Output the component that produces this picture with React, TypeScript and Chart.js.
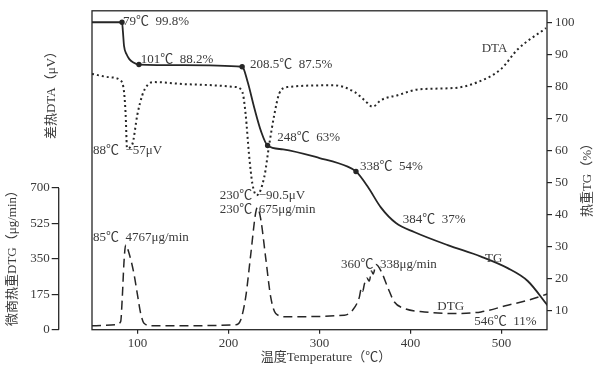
import { useEffect, useRef } from "react";
import { Chart, registerables } from "chart.js";
Chart.register(...registerables);

// TG curve: temperature (°C) and mass (%)
const tgTemp = [50, 83, 84, 85.2, 88, 91, 95, 101.6, 150, 215, 221, 228.3, 235.7, 243, 260, 300, 331, 340.1, 352.9, 367.6, 384, 404, 440.9, 477.5, 506.8, 528.8, 550.8];
const tgValue = [100, 100, 97, 92.6, 90, 88.5, 87.5, 86.8, 86.6, 86.1, 81.4, 73.3, 66, 61.5, 60.3, 57.6, 54.9, 53.4, 48.7, 42.1, 37.3, 34.5, 30.4, 26.8, 23.2, 19.2, 11.5];
const tgMarks = [83, 101.6, 215, 243, 340.1];

// DTA curve: temperature (°C) and signal (μV)
const dtaTemp = [50, 68.7, 81.5, 85.2, 87, 88.5, 94.3, 99.8, 105.3, 110.8, 118.1, 156.6, 207.9, 215.2, 218.9, 222.5, 226.2, 231, 239.3, 244.8, 250.3, 255.8, 265, 316.3, 338.3, 349.3, 358.5, 367.6, 385.9, 409.7, 448.1, 473.8, 499.5, 517.8, 548.9];
const dtaValue = [-4.2, -6.5, -8.9, -17, -33.3, -57, -54.2, -33.3, -19.3, -12.3, -10, -11.6, -13.5, -17, -33.3, -61.2, -82.1, -90.5, -77.5, -54.2, -33.3, -18.1, -13.5, -12.3, -17, -22.8, -27.5, -22.8, -19.3, -15.1, -14.2, -10, -0.7, 13.3, 28.4];

// DTG curve: temperature (°C) and rate (μg/min)
const dtgTemp = [50, 76, 81.5, 83.3, 85.2, 87, 90.7, 96.2, 99.8, 103.5, 107.1, 116.3, 207.9, 213.4, 218.9, 224.4, 229.9, 231.7, 235.4, 240.9, 246.4, 251.9, 262.9, 327.3, 336.5, 343.8, 346, 347.5, 349.3, 352, 354.8, 357, 359, 362.1, 367.6, 375, 382.3, 393.3, 415.3, 448.2, 477.5, 506.8, 528.8, 550.8];
const dtgValue = [19, 24, 40, 161, 338, 419, 378, 274, 177, 80, 32, 19, 24, 48, 161, 370, 579, 603, 547, 354, 161, 80, 64, 72, 97, 161, 205, 190, 225, 255, 240, 290, 275, 322, 290, 209, 137, 105, 88, 80, 88, 121, 145, 177];

const xTicks = [100, 200, 300, 400, 500];
const tgTicks = [10, 20, 30, 40, 50, 60, 70, 80, 90, 100];
const dtgTicks = [0, 175, 350, 525, 700];

// Annotations in data coordinates (x: °C, y: TG %)
const noteText = ["79℃  99.8%", "101℃  88.2%", "208.5℃  87.5%", "88℃  −57μV", "248℃  63%", "338℃  54%", "384℃  37%", "TG", "DTG", "546℃  11%", "360℃  338μg/min", "230℃  −90.5μV", "230℃  675μg/min", "85℃  4767μg/min", "DTA"];
const noteX = [84.1, 103.5, 223.6, 51.1, 253.6, 344.5, 391.4, 481.9, 429.5, 470.1, 323.6, 190.3, 190.3, 51.1, 478.2];
const noteY = [100.2, 88.5, 86.7, 59.9, 64.0, 54.9, 38.4, 26.3, 11.2, 6.6, 24.3, 45.9, 41.4, 32.9, 91.7];

const FAMILY = '"Liberation Serif", "Noto Sans CJK SC", serif';
const TEXT = "#3a3a3a";
const LINE = "#262626";

const drawPlugin = {
  id: "decor",
  afterDraw(chart: any) {
    const { ctx, chartArea, scales } = chart;
    ctx.save();
    // frame
    ctx.strokeStyle = LINE;
    ctx.lineWidth = 1.3;
    ctx.strokeRect(chartArea.left, chartArea.top, chartArea.right - chartArea.left, chartArea.bottom - chartArea.top);
    // DTG axis line
    const d = scales.dtg;
    ctx.beginPath();
    ctx.moveTo(d.right, d.getPixelForValue(dtgTicks[0]));
    ctx.lineTo(d.right, d.getPixelForValue(dtgTicks[dtgTicks.length - 1]));
    ctx.stroke();
    // annotations
    ctx.fillStyle = TEXT;
    ctx.font = `13px ${FAMILY}`;
    ctx.textBaseline = "middle";
    ctx.textAlign = "left";
    noteText.forEach((t, i) => {
      ctx.fillText(t, scales.x.getPixelForValue(noteX[i]), scales.tg.getPixelForValue(noteY[i]));
    });
    // titles
    const rot = (text: string, x: number, y: number) => {
      ctx.save();
      ctx.translate(x, y);
      ctx.rotate(-Math.PI / 2);
      ctx.textAlign = "center";
      ctx.fillText(text, 0, 0);
      ctx.restore();
    };
    rot("差热DTA（μV）", 52, 92);
    rot("微商热重DTG（μg/min）", 13, 255);
    rot("热重TG（%）", 588, 177);
    ctx.textAlign = "center";
    ctx.fillText("温度Temperature（℃）", 326, 358);
    ctx.restore();
  },
};

export default function App() {
  const ref = useRef<HTMLCanvasElement>(null);
  useEffect(() => {
    const font = { family: FAMILY, size: 13 };
    const chart = new Chart(ref.current as HTMLCanvasElement, {
      type: "line",
      data: {
        datasets: [
          {
            label: "TG",
            data: tgTemp.map((t, i) => ({ x: t, y: tgValue[i] })),
            yAxisID: "tg",
            borderColor: LINE,
            backgroundColor: LINE,
            borderWidth: 1.8,
            cubicInterpolationMode: "monotone",
            pointRadius: (c: any) => (tgMarks.includes(tgTemp[c.dataIndex]) ? 1.8 : 0),
          },
          {
            label: "DTA",
            data: dtaTemp.map((t, i) => ({ x: t, y: dtaValue[i] })),
            yAxisID: "dta",
            borderColor: LINE,
            borderWidth: 2,
            borderDash: [2, 3],
            cubicInterpolationMode: "monotone",
            pointRadius: 0,
          },
          {
            label: "DTG",
            data: dtgTemp.map((t, i) => ({ x: t, y: dtgValue[i] })),
            yAxisID: "dtg",
            borderColor: LINE,
            borderWidth: 1.5,
            borderDash: [9, 5],
            cubicInterpolationMode: "monotone",
            pointRadius: 0,
          },
        ],
      },
      options: {
        animation: false,
        responsive: false,
        devicePixelRatio: 1,
        layout: { padding: { top: 4, left: 0, right: 0, bottom: 0 } },
        plugins: { legend: { display: false }, tooltip: { enabled: false } },
        scales: {
          x: {
            type: "linear",
            position: "bottom",
            min: 50,
            max: 550,
            afterBuildTicks: (s: any) => { s.ticks = xTicks.map((v) => ({ value: v })); },
            afterFit: (s: any) => { s.height = 36.3; },
            grid: { drawOnChartArea: false, drawTicks: true, tickLength: 4, color: LINE, lineWidth: 1.2 },
            border: { display: false },
            ticks: { font, color: TEXT, padding: 2, maxRotation: 0, autoSkip: false },
          },
          tg: {
            type: "linear",
            position: "right",
            min: 3.98,
            max: 103.58,
            afterBuildTicks: (s: any) => { s.ticks = tgTicks.map((v) => ({ value: v })); },
            afterFit: (s: any) => { s.width = 51; },
            grid: { drawOnChartArea: false, drawTicks: true, tickLength: 5, color: LINE, lineWidth: 1.2 },
            border: { display: false },
            ticks: { font, color: TEXT, padding: 3, autoSkip: false },
          },
          dta: {
            type: "linear",
            position: "left",
            weight: 0,
            min: -186.1,
            max: 40.7,
            afterFit: (s: any) => { s.width = 33.3; },
            grid: { display: false },
            border: { display: false },
            ticks: { display: false },
          },
          dtg: {
            type: "linear",
            position: "left",
            weight: 1,
            min: 0,
            max: 1575.6,
            afterBuildTicks: (s: any) => { s.ticks = dtgTicks.map((v) => ({ value: v })); },
            afterFit: (s: any) => { s.width = 58.7; },
            grid: { drawOnChartArea: false, drawTicks: true, tickLength: 7, color: LINE, lineWidth: 1.2 },
            border: { display: false },
            ticks: { font, color: TEXT, padding: 2, autoSkip: false },
          },
        },
      } as any,
      plugins: [drawPlugin],
    });
    return () => chart.destroy();
  }, []);
  return (
    <div style={{ position: "fixed", left: 0, top: 0, width: 598, height: 366, background: "#fff" }}>
      <canvas ref={ref} width={598} height={366} style={{ width: 598, height: 366 }} />
    </div>
  );
}
